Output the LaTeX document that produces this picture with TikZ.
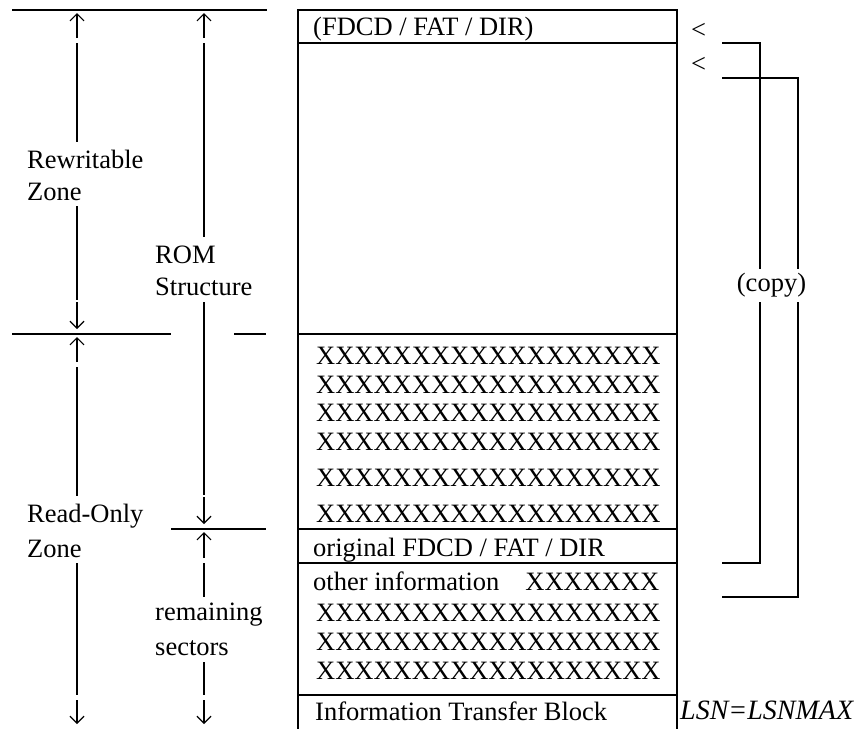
\documentclass[tikz,border=0pt]{standalone}
\usepackage{fontspec}
\setmainfont{Liberation Serif}
\usetikzlibrary{arrows.meta}
\begin{document}
\begin{tikzpicture}[x=1pt,y=-1pt,
  every node/.style={font=\fontsize{26.5}{30}\selectfont, inner sep=0pt},
  ln/.style={line width=2.6pt},
  ar/.style={line width=1.2pt, -{Straight Barb[length=7pt,width=14pt]}},
  lbl/.style={anchor=base west}]
\useasboundingbox (0,0) rectangle (855,729);
% ---------- main block ----------
\draw[ln] (298,729) -- (298,10) -- (677,10) -- (677,729);
\foreach \y in {43,334,529,563,695} \draw[ln] (298,\y) -- (677,\y);
% ---------- left horizontal lines ----------
\draw[ln] (12,10) -- (267,10);
\draw[ln] (12,334) -- (171,334);
\draw[ln] (234,334) -- (266,334);
\draw[ln] (171,529) -- (266,529);
% ---------- texts in block ----------
\node[lbl] (hdr) at (313,35) {(FDCD / FAT / DIR)};
\foreach \y/\n in {364/x1,393/x2,421.5/x3,450/x4,486/x5,522/x6}
  \node[lbl] (\n) at (316,\y) {XXXXXXXXXXXXXXXXXX};
\node[lbl] (orig) at (313,556) {original FDCD / FAT / DIR};
\node[lbl] (oth) at (313,590) {other information\hspace{26pt}XXXXXXX};
\foreach \y/\n in {621/y1,650/y2,679/y3}
  \node[lbl] (\n) at (316,\y) {XXXXXXXXXXXXXXXXXX};
\node[lbl] (itb) at (315,720) {Information Transfer Block};
% ---------- left labels ----------
\node[lbl] (rw1) at (27,168) {Rewritable};
\node[lbl] (rw2) at (27,200) {Zone};
\node[lbl] (rom1) at (155,263) {ROM};
\node[lbl] (rom2) at (155,295) {Structure};
\node[lbl] (ro1) at (27,522) {Read-Only};
\node[lbl] (ro2) at (27,557) {Zone};
\node[lbl] (rem1) at (155,620) {remaining};
\node[lbl] (rem2) at (155,655) {sectors};
% ---------- column 1 ----------
\draw[ar] (77,38) -- (77,13);
\draw[ln] (77,43) -- (77,142);
\draw[ln] (77,206) -- (77,300);
\draw[ar] (77,302) -- (77,329);
\draw[ar] (77,362) -- (77,337);
\draw[ln] (77,367) -- (77,496);
\draw[ln] (77,563) -- (77,695);
\draw[ar] (77,700) -- (77,724);
% ---------- column 2 ----------
\draw[ar] (204,38) -- (204,13);
\draw[ln] (204,43) -- (204,237);
\draw[ln] (204,302) -- (204,495);
\draw[ar] (204,497) -- (204,524);
\draw[ar] (204,558) -- (204,532);
\draw[ln] (204,563) -- (204,597);
\draw[ln] (204,662) -- (204,695);
\draw[ar] (204,700) -- (204,724);
% ---------- right side ----------
\node (lt1) at (698.5,31) {<};
\node (lt2) at (698.5,65) {<};
\draw[ln] (722,43) -- (760,43) -- (760,563) -- (722,563);
\draw[ln] (722,78) -- (798,78) -- (798,597) -- (722,597);
\node[fill=white, inner sep=4.2pt] (copy) at (771.5,285.5) {(copy)};
\node[lbl, font=\fontsize{28}{30}\selectfont\itshape] (lsn) at (680,719) {LSN=LSNMAX};
\end{tikzpicture}
\end{document}
